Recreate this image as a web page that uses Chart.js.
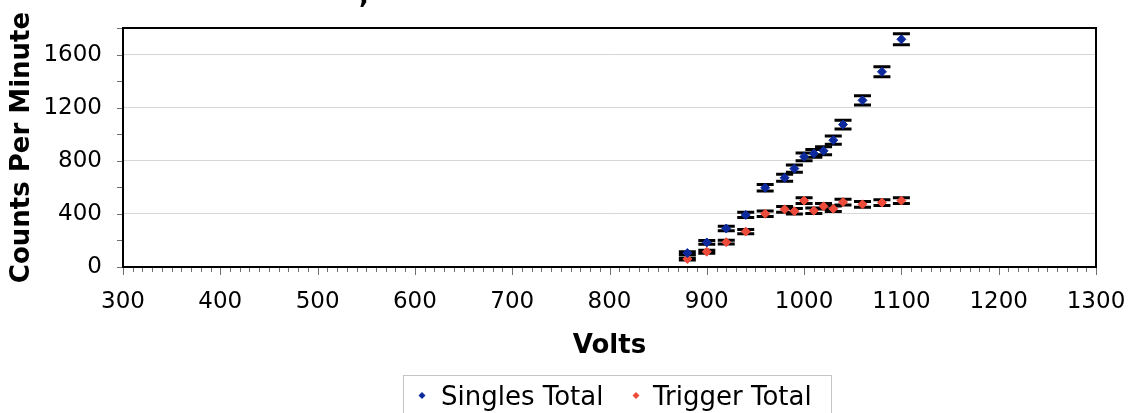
<!DOCTYPE html>
<html>
<head>
<meta charset="utf-8">
<script src="https://cdn.jsdelivr.net/npm/chart.js@4.4.1/dist/chart.umd.min.js"></script>
<style>
  html, body { margin: 0; padding: 0; background: #ffffff; }
  #wrap { width: 1135px; height: 413px; }
</style>
</head>
<body>
<div id="wrap"><canvas id="c" width="1135" height="413"></canvas></div>
<script>
// ---- data ----
const volts        = [880, 900, 920, 940, 960, 980, 990, 1000, 1010, 1020, 1030, 1040, 1060, 1080, 1100];
const singlesTotal = [105, 185, 290, 392, 597, 672, 741, 830, 855, 875, 955, 1073, 1255, 1470, 1715];
const singlesErr   = [10, 14, 17, 20, 24, 26, 27, 29, 29, 30, 31, 33, 35, 38, 41];
const triggerTotal = [60, 115, 187, 267, 401, 434, 420, 500, 424, 457, 439, 489, 472, 485, 500];
const triggerErr   = [8, 11, 14, 16, 20, 21, 20, 22, 21, 21, 21, 22, 22, 22, 22];
const seriesNames  = ['Singles Total', 'Trigger Total'];
const xTitle = 'Volts';
const yTitle = 'Counts Per Minute';

const BLUE = '#0c2a9e';
const RED  = '#ee4b3b';

const toPoints = (ys) => volts.map((v, i) => ({ x: v, y: ys[i] }));
const errs = [singlesErr, triggerErr];
const vals = [singlesTotal, triggerTotal];

Chart.defaults.font.family = 'DejaVu Sans';
Chart.defaults.color = '#000';

const decor = {
  id: 'decor',
  beforeDatasetsDraw(chart) {
    const { ctx, scales: { x, y } } = chart;
    ctx.save();
    ctx.strokeStyle = '#000';
    for (let d = 0; d < 2; d++) {
      for (let j = 0; j < volts.length; j++) {
        const px = x.getPixelForValue(volts[j]);
        const yt = y.getPixelForValue(vals[d][j] + errs[d][j]);
        const yb = y.getPixelForValue(vals[d][j] - errs[d][j]);
        ctx.lineWidth = 1;
        ctx.beginPath(); ctx.moveTo(px, yt); ctx.lineTo(px, yb); ctx.stroke();
        ctx.lineWidth = 3;
        ctx.beginPath();
        ctx.moveTo(px - 8.5, yt); ctx.lineTo(px + 8.5, yt);
        ctx.moveTo(px - 8.5, yb); ctx.lineTo(px + 8.5, yb);
        ctx.stroke();
      }
    }
    ctx.restore();
  },
  afterDraw(chart) {
    const { ctx, chartArea: a, scales: { x, y } } = chart;
    ctx.save();
    // tick marks
    ctx.strokeStyle = '#707070';
    ctx.lineWidth = 1;
    ctx.beginPath();
    for (let v = 0; v <= 1800; v += 200) {
      const py = Math.round(y.getPixelForValue(v)) + 0.5;
      ctx.moveTo(a.left - 6, py); ctx.lineTo(a.left, py);
    }
    for (let v = 300; v <= 1300; v += 10) {
      const px = Math.round(x.getPixelForValue(v)) + 0.5;
      const len = (v % 100 === 0) ? 8 : 5;
      ctx.moveTo(px, a.bottom); ctx.lineTo(px, a.bottom + len);
    }
    ctx.stroke();
    // plot border
    ctx.strokeStyle = '#000';
    ctx.lineWidth = 2;
    ctx.strokeRect(a.left, a.top, a.right - a.left, a.bottom - a.top);
    // legend
    ctx.strokeStyle = '#c4c4c4';
    ctx.lineWidth = 1;
    ctx.strokeRect(403.5, 375.5, 428, 50);
    ctx.font = '26px "DejaVu Sans"';
    ctx.textBaseline = 'alphabetic';
    ctx.textAlign = 'left';
    const items = [
      { mx: 422, tx: 441, color: BLUE, text: seriesNames[0] },
      { mx: 636, tx: 653, color: RED,  text: seriesNames[1] }
    ];
    for (const it of items) {
      ctx.fillStyle = it.color;
      ctx.beginPath();
      ctx.moveTo(it.mx, 392); ctx.lineTo(it.mx + 3.5, 395.5);
      ctx.lineTo(it.mx, 399); ctx.lineTo(it.mx - 3.5, 395.5);
      ctx.closePath(); ctx.fill();
      ctx.fillStyle = '#000';
      ctx.fillText(it.text, it.tx, 405);
    }
    // remnant of cropped title
    ctx.font = 'bold 26px "DejaVu Sans"';
    ctx.fillText(',', 359, 3);
    ctx.restore();
  }
};

new Chart(document.getElementById('c'), {
  type: 'scatter',
  data: {
    datasets: [
      { label: seriesNames[0], data: toPoints(singlesTotal), pointStyle: 'rectRot', pointRadius: 4.5,
        backgroundColor: BLUE, borderColor: BLUE, borderWidth: 1 },
      { label: seriesNames[1], data: toPoints(triggerTotal), pointStyle: 'rectRot', pointRadius: 4.5,
        backgroundColor: RED, borderColor: RED, borderWidth: 1 }
    ]
  },
  options: {
    responsive: false,
    animation: false,
    devicePixelRatio: 1,
    layout: { padding: { left: 0, right: 39, top: 28, bottom: 0 } },
    plugins: { legend: { display: false }, tooltip: { enabled: false } },
    scales: {
      x: {
        type: 'linear', min: 300, max: 1300,
        afterFit: (s) => { s.height = 146; s.paddingLeft = 0; s.paddingRight = 0; },
        ticks: { stepSize: 100, padding: 21, font: { size: 23 }, color: '#000', maxRotation: 0,
                 callback: (v) => String(v) },
        grid: { display: false, drawTicks: false },
        border: { display: false },
        title: { display: true, text: xTitle, font: { size: 26, weight: 'bold' }, color: '#000',
                 padding: { top: 0, bottom: 51 } }
      },
      y: {
        type: 'linear', min: 0, max: 1800,
        afterFit: (s) => { s.width = 123; s.paddingTop = 0; s.paddingBottom = 0; },
        ticks: { stepSize: 200, padding: 21, font: { size: 23 }, color: '#000',
                 callback: (v) => (v % 400 === 0 ? String(v) : '') },
        grid: { drawTicks: false,
                color: (c) => (c.tick && c.tick.value % 400 === 0 && c.tick.value > 0 && c.tick.value < 1800) ? '#d6d6d6' : 'rgba(0,0,0,0)' },
        border: { display: false },
        title: { display: true, text: yTitle, font: { size: 26, weight: 'bold' }, color: '#000',
                 padding: { top: 7, bottom: 0 } }
      }
    }
  },
  plugins: [decor]
});
</script>
</body>
</html>
